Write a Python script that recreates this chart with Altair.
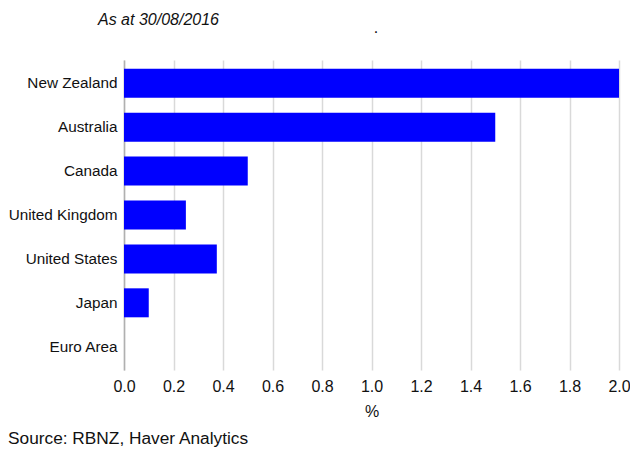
import altair as alt
import pandas as pd

countries = ["New Zealand", "Australia", "Canada", "United Kingdom", "United States", "Japan", "Euro Area"]
rates = [2.0, 1.5, 0.5, 0.25, 0.375, 0.1, 0.0]
x_ticks = [0.0, 0.2, 0.4, 0.6, 0.8, 1.0, 1.2, 1.4, 1.6, 1.8, 2.0]

df = pd.DataFrame({"country": countries, "rate": rates})
FONT = "Liberation Sans, Arial"
FS = 16

bars = alt.Chart(df).mark_bar(color="#0000FF").encode(
    x=alt.X("rate:Q", title="%",
            scale=alt.Scale(domain=[0, 2.0], nice=False),
            axis=alt.Axis(values=x_ticks, format=".1f", grid=True, gridColor="#d9d9d9",
                          gridWidth=1.5, domain=False, ticks=False, labelFlush=False,
                          labelOverlap=False,
                          labelFontSize=FS, labelPadding=8, labelColor="#111",
                          titleFontSize=FS, titleFontWeight="normal", titleColor="#111",
                          titlePadding=9, labelFont=FONT, titleFont=FONT)),
    y=alt.Y("country:N", title=None, sort=countries,
            scale=alt.Scale(paddingInner=0.34, paddingOuter=0.2),
            axis=alt.Axis(domain=True, domainColor="#b0b0b0", domainWidth=1.5, ticks=False,
                          labelFontSize=15.3, labelPadding=7, labelColor="#111", labelFont=FONT)),
)

note = alt.Chart(pd.DataFrame({"t": ["As at 30/08/2016"]})).mark_text(
    align="left", baseline="alphabetic", fontSize=FS, fontStyle="italic", font=FONT, color="#111"
).encode(text="t:N", x=alt.value(-26), y=alt.value(-35))

dot = alt.Chart(pd.DataFrame({"t": ["."]})).mark_text(
    align="center", baseline="alphabetic", fontSize=FS, font=FONT, color="#111"
).encode(text="t:N", x=alt.value(252), y=alt.value(-27))

source = alt.Chart(pd.DataFrame({"t": ["Source: RBNZ, Haver Analytics"]})).mark_text(
    align="left", baseline="alphabetic", fontSize=17.3, font=FONT, color="#111"
).encode(text="t:N", x=alt.value(-116), y=alt.value(384))

chart = alt.layer(bars, note, dot, source).properties(
    width=495, height=310,
    autosize=alt.AutoSizeParams(type="none"),
    padding={"left": 116, "top": 52, "right": 11, "bottom": 79},
).configure_view(stroke=None)

chart.save("out.html", embed_options={"renderer": "svg", "actions": False})
